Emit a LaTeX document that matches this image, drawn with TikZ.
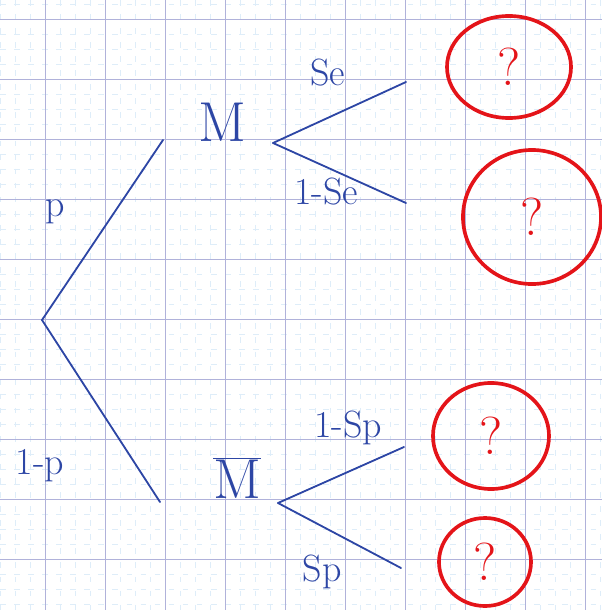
\documentclass[tikz,border=0pt]{standalone}
\usetikzlibrary{positioning,shapes.geometric}
\definecolor{penblue}{RGB}{45,70,165}
\definecolor{inkred}{RGB}{228,20,25}
\definecolor{gridmajor}{RGB}{176,178,218}
\definecolor{gridminor}{RGB}{222,237,249}

\begin{document}
\begin{tikzpicture}[
  x=0.025cm, y=-0.025cm,
  pen/.style={draw=penblue, line width=1.3pt, line cap=round},
  event/.style={text=penblue, font=\fontsize{40}{44}\selectfont, inner sep=0pt},
  prob/.style={text=penblue, font=\fontsize{27}{30}\selectfont, inner sep=0pt},
  answer/.style={ellipse, draw=inkred, line width=2.6pt, text=inkred, font=\fontsize{38}{42}\selectfont, inner sep=0pt},
  major/.style={draw=gridmajor, line width=0.6pt},
  minor/.style={draw=gridminor, line width=0.5pt, dash pattern=on 4pt off 6pt}
]
\useasboundingbox (0,0) rectangle (602,610);

% squared paper
\foreach \x in {0,15,...,600} \draw[minor] (\x,0) -- (\x,610);
\foreach \y in {4,19,...,604} \draw[minor] (0,\y) -- (602,\y);
\foreach \x in {45,105,...,585} \draw[major] (\x,0) -- (\x,610);
\foreach \y in {19,79,...,559} \draw[major] (0,\y) -- (602,\y);

% first level
\coordinate (root) at (42,320);
\coordinate (mend) at (163,140);
\coordinate (nend) at (160,502);
\node[event] (m) at (222,122) {M};
\node[event] (mbar) at (237,478) {$\overline{\mbox{M}}$};

% second level
\coordinate (mfork) at (273,143);
\coordinate (mpos) at (406,82);
\coordinate (mneg) at (406,203);
\coordinate (nfork) at (278,503);
\coordinate (npos) at (404,447);
\coordinate (nneg) at (401,568);

\draw[pen] (root) -- (mend);
\draw[pen] (root) -- (nend);
\draw[pen] (mfork) -- (mpos);
\draw[pen] (mfork) -- (mneg);
\draw[pen] (nfork) -- (npos);
\draw[pen] (nfork) -- (nneg);

% branch labels
\node[prob] (lp) at (55,212) {p};
\node[prob] (lq) at (40,466) {1-p};
\node[prob] (lse) at (328,73) {Se};
\node[prob] (lnse) at (326,192) {1-Se};
\node[prob] (lnsp) at (348,428) {1-Sp};
\node[prob] (lsp) at (322,572) {Sp};

% results to find
\node[answer, minimum width=3.1cm, minimum height=2.55cm] (r1) at (509,67) {?};
\node[answer, minimum width=3.45cm, minimum height=3.35cm] (r2) at (532,217) {?};
\node[answer, minimum width=2.9cm, minimum height=2.65cm] (r3) at (491,436) {?};
\node[answer, minimum width=2.3cm, minimum height=2.2cm] (r4) at (485,562) {?};
\end{tikzpicture}
\end{document}
